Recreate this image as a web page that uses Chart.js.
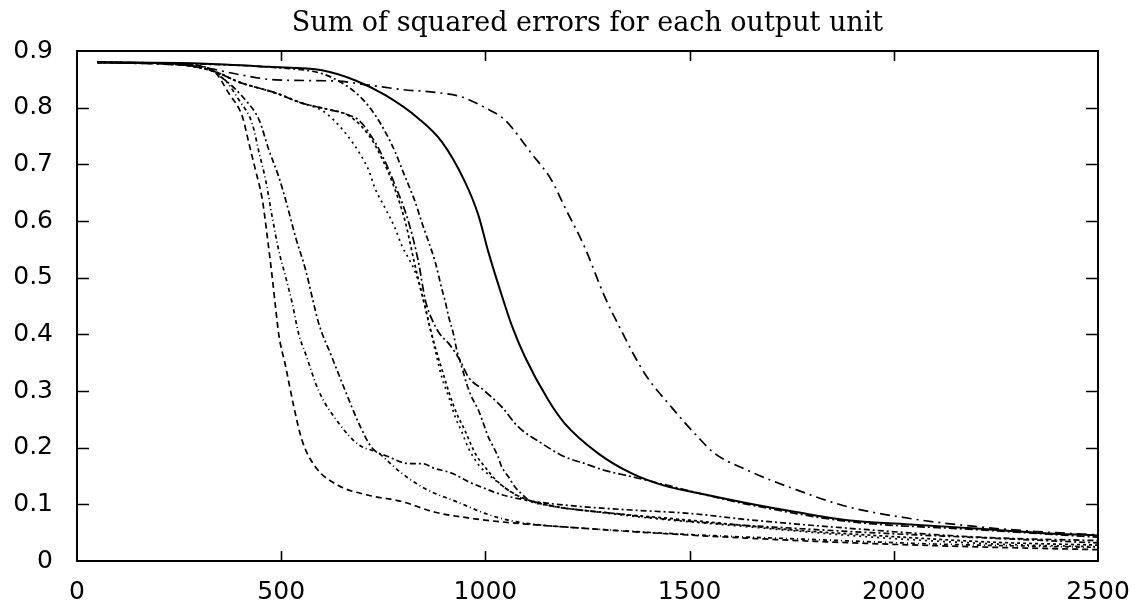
<!DOCTYPE html>
<html>
<head>
<meta charset="utf-8">
<title>Sum of squared errors for each output unit</title>
<script src="https://cdn.jsdelivr.net/npm/chart.js@4.4.1/dist/chart.umd.min.js"></script>
<style>
    html, body { margin: 0; padding: 0; background: #fff; }
    #wrap { width: 1141px; height: 607px; position: relative; }
</style>
</head>
<body>
<div id="wrap"><canvas id="errorChart"></canvas></div>
<script>
// axis setup
const xTicks = [0, 500, 1000, 1500, 2000, 2500];
const yTicks = [0, 0.1, 0.2, 0.3, 0.4, 0.5, 0.6, 0.7, 0.8, 0.9];
const chartTitle = 'Sum of squared errors for each output unit';

// one [iteration, error] list per output unit
const unitSolid = [[50,0.88],[300,0.878],[470,0.872],[600,0.866],[682,0.848],[755,0.822],[836,0.781],[893,0.74],[950,0.669],[983,0.61],[1007,0.546],[1036,0.478],[1065,0.415],[1097,0.36],[1154,0.284],[1194,0.243],[1276,0.19],[1357,0.155],[1438,0.133],[1520,0.12],[1642,0.102],[1764,0.086],[1886,0.072],[2050,0.064],[2211,0.057],[2350,0.05],[2500,0.045]];
const unitLate = [[50,0.88],[300,0.872],[400,0.858],[486,0.849],[633,0.847],[714,0.84],[795,0.832],[877,0.827],[942,0.819],[999,0.8],[1048,0.778],[1113,0.719],[1162,0.672],[1194,0.625],[1243,0.554],[1290,0.47],[1324,0.419],[1390,0.331],[1455,0.272],[1520,0.219],[1561,0.19],[1642,0.16],[1764,0.125],[1886,0.096],[2049,0.074],[2211,0.06],[2350,0.052],[2500,0.046]];
const unitEarly1 = [[50,0.88],[250,0.876],[332,0.866],[372,0.825],[405,0.784],[421,0.737],[437,0.69],[454,0.637],[466,0.572],[478,0.501],[486,0.449],[494,0.4],[511,0.343],[531,0.272],[551,0.213],[584,0.166],[641,0.133],[714,0.116],[795,0.105],[877,0.086],[958,0.076],[1040,0.069],[1235,0.058],[1400,0.05],[1650,0.04],[1900,0.032],[2200,0.025],[2500,0.02]];
const unitEarly2 = [[50,0.88],[280,0.876],[356,0.854],[397,0.813],[429,0.772],[446,0.72],[462,0.672],[478,0.607],[494,0.548],[511,0.501],[527,0.455],[543,0.4],[560,0.365],[592,0.3],[641,0.243],[690,0.205],[739,0.19],[763,0.175],[795,0.155],[844,0.131],[877,0.119],[918,0.108],[958,0.096],[999,0.084],[1056,0.072],[1105,0.066],[1300,0.055],[1550,0.045],[1800,0.038],[2100,0.03],[2500,0.024]];
const unitEarly3 = [[50,0.88],[300,0.874],[360,0.85],[413,0.813],[446,0.778],[470,0.725],[494,0.678],[511,0.637],[535,0.572],[560,0.513],[576,0.465],[592,0.419],[624,0.36],[657,0.3],[690,0.243],[722,0.2],[763,0.184],[812,0.172],[844,0.172],[877,0.163],[918,0.155],[958,0.14],[999,0.128],[1040,0.117],[1121,0.105],[1235,0.096],[1357,0.09],[1500,0.084],[1642,0.073],[1886,0.058],[2211,0.042],[2500,0.036]];
const unitMid1 = [[50,0.88],[250,0.876],[340,0.863],[397,0.845],[486,0.826],[551,0.808],[600,0.795],[633,0.775],[665,0.748],[690,0.722],[714,0.69],[730,0.657],[755,0.622],[779,0.587],[795,0.557],[812,0.534],[828,0.51],[845,0.47],[860,0.425],[877,0.372],[893,0.325],[910,0.29],[926,0.254],[942,0.228],[958,0.2],[983,0.17],[1015,0.148],[1056,0.125],[1097,0.108],[1160,0.097],[1235,0.09],[1400,0.076],[1650,0.06],[1950,0.042],[2250,0.03],[2500,0.025]];
const unitMid2 = [[50,0.88],[250,0.876],[340,0.863],[397,0.845],[486,0.826],[551,0.808],[608,0.798],[665,0.787],[690,0.778],[714,0.757],[747,0.716],[779,0.663],[812,0.598],[836,0.528],[853,0.46],[870,0.425],[889,0.4],[910,0.384],[938,0.354],[958,0.325],[995,0.302],[1040,0.272],[1080,0.237],[1137,0.208],[1194,0.184],[1243,0.172],[1292,0.16],[1357,0.149],[1438,0.135],[1520,0.12],[1642,0.1],[1886,0.07],[2211,0.055],[2500,0.042]];
const unitMid3 = [[50,0.88],[250,0.876],[340,0.863],[397,0.845],[486,0.826],[551,0.808],[608,0.798],[665,0.786],[714,0.752],[747,0.71],[779,0.655],[804,0.598],[825,0.53],[850,0.455],[865,0.41],[880,0.37],[897,0.33],[912,0.295],[930,0.26],[950,0.23],[975,0.19],[1000,0.165],[1030,0.14],[1072,0.118],[1120,0.104],[1180,0.095],[1300,0.085],[1500,0.072],[1750,0.055],[2000,0.043],[2250,0.033],[2500,0.028]];
const unitMid4 = [[50,0.88],[300,0.877],[500,0.87],[600,0.86],[657,0.84],[698,0.816],[730,0.787],[755,0.757],[779,0.722],[795,0.693],[812,0.663],[828,0.634],[844,0.598],[861,0.563],[877,0.528],[893,0.481],[901,0.46],[910,0.431],[922,0.4],[930,0.372],[942,0.343],[954,0.313],[966,0.29],[983,0.266],[995,0.243],[1007,0.219],[1019,0.202],[1031,0.184],[1040,0.166],[1056,0.149],[1072,0.131],[1088,0.119],[1105,0.108],[1137,0.102],[1170,0.096],[1300,0.085],[1500,0.07],[1750,0.058],[2000,0.048],[2250,0.04],[2500,0.032]];

const units = [unitSolid, unitLate, unitEarly1, unitEarly2, unitEarly3, unitMid1, unitMid2, unitMid3, unitMid4];
const dashes = [[], [10, 5, 2, 5], [6, 4], [4, 3, 1, 3], [6, 3, 2, 3], [2, 4], [8, 3, 2, 3], [3, 3], [2, 3, 6, 3]];

// box frame with inward ticks on all four sides, like the old gnuplot output
const frameTicks = {
    id: 'frameTicks',
    afterDraw(chart) {
        const { ctx, chartArea: a, scales: { x, y } } = chart;
        ctx.save();
        ctx.strokeStyle = '#000';
        ctx.lineWidth = 2;
        ctx.strokeRect(a.left, a.top, a.right - a.left, a.bottom - a.top);
        ctx.lineWidth = 1.6;
        ctx.beginPath();
        x.ticks.forEach(t => {
            if (t.value <= x.min || t.value >= x.max) return;
            const px = Math.round(x.getPixelForValue(t.value)) + 0.5;
            ctx.moveTo(px, a.bottom); ctx.lineTo(px, a.bottom - 10);
            ctx.moveTo(px, a.top); ctx.lineTo(px, a.top + 10);
        });
        y.ticks.forEach(t => {
            if (t.value <= y.min + 1e-9 || t.value >= y.max - 1e-9) return;
            const py = Math.round(y.getPixelForValue(t.value)) + 0.5;
            ctx.moveTo(a.left, py); ctx.lineTo(a.left + 12, py);
            ctx.moveTo(a.right, py); ctx.lineTo(a.right - 12, py);
        });
        ctx.stroke();
        ctx.restore();
    }
};

const ctx = document.getElementById('errorChart');

new Chart(ctx, {
    type: 'line',
    data: {
        datasets: units.map((pts, i) => ({
            label: 'unit ' + (i + 1),
            data: pts.map(p => ({ x: p[0], y: p[1] })),
            borderColor: '#000',
            borderWidth: i === 0 ? 2 : 1.7,
            borderDash: dashes[i],
            pointRadius: 0,
            fill: false,
            cubicInterpolationMode: 'monotone'
        }))
    },
    options: {
        responsive: true,
        maintainAspectRatio: false,
        animation: false,
        layout: { padding: { left: 0, right: 43, top: 0, bottom: 0 } },
        plugins: {
            legend: { display: false },
            tooltip: { enabled: false },
            title: {
                display: true,
                fullSize: false, // centre over the plot box, not the whole canvas
                text: chartTitle,
                color: '#000',
                font: { family: 'DejaVu Serif', size: 27, weight: 'normal', lineHeight: 1.2 },
                padding: { top: 8, bottom: 10.6 }
            }
        },
        scales: {
            x: {
                type: 'linear',
                min: xTicks[0],
                max: xTicks[xTicks.length - 1],
                afterBuildTicks: scale => { scale.ticks = xTicks.map(v => ({ value: v })); },
                grid: { display: false, drawTicks: false },
                border: { display: false },
                ticks: {
                    color: '#000',
                    padding: 16,
                    maxRotation: 0,
                    font: { family: 'DejaVu Sans', size: 25 },
                    callback: v => String(v)
                },
                afterFit: scale => {
                    scale.height = 46;
                    scale.paddingLeft = 0;
                    scale.paddingRight = 0;
                }
            },
            y: {
                min: yTicks[0],
                max: yTicks[yTicks.length - 1],
                afterBuildTicks: scale => { scale.ticks = yTicks.map(v => ({ value: v })); },
                grid: { display: false, drawTicks: false },
                border: { display: false },
                ticks: {
                    color: '#000',
                    padding: 24,
                    font: { family: 'DejaVu Sans', size: 25 },
                    callback: v => (v === 0 ? '0' : v.toFixed(1))
                },
                afterFit: scale => {
                    scale.width = 77;
                    scale.paddingTop = 0;
                    scale.paddingBottom = 0;
                }
            }
        }
    },
    plugins: [frameTicks]
});
</script>
</body>
</html>
